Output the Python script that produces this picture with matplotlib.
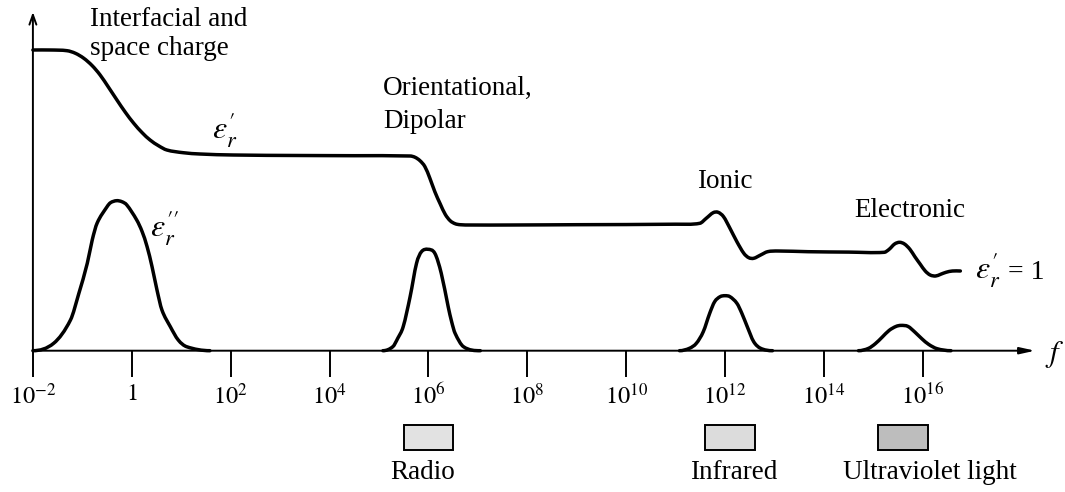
import numpy as np
import matplotlib.pyplot as plt
from matplotlib.patches import Rectangle, PathPatch
from matplotlib.path import Path

plt.rcParams['font.family'] = ['Liberation Serif', 'DejaVu Serif']
plt.rcParams['mathtext.fontset'] = 'stix'

real_exp = [-2.0, -1.64, -1.31, -1.14, -0.97, -0.80, -0.64, -0.47, -0.30, -0.13, 0.04, 0.21,
            0.37, 0.54, 0.71, 1.04, 1.38, 2.05, 3.40,
            4.50, 5.63, 5.73, 5.83, 5.93, 6.03, 6.13, 6.24, 6.34, 6.44, 6.54, 6.64, 6.85, 7.66,
            9.00, 11.00, 11.49, 11.62, 11.76, 11.86, 11.97, 12.10, 12.24, 12.38, 12.48, 12.58,
            12.72, 12.86, 13.07, 13.68,
            14.50, 15.22, 15.32, 15.43, 15.53, 15.63, 15.74, 15.84, 15.95, 16.05, 16.15, 16.26,
            16.36, 16.47, 16.60, 16.76]
real_val = [300.7, 300.7, 300.0, 297.4, 292.4, 285.0, 275.7, 263.4, 250.7, 238.4, 227.4, 218.0,
            210.7, 205.0, 200.7, 198.0, 196.7, 195.7, 195.2,
            195.0, 194.7, 193.4, 190.0, 184.0, 172.4, 159.0, 146.7, 136.4, 130.0, 127.0, 126.0, 125.7, 125.7,
            126.0, 126.5, 127.4, 132.4, 138.0, 138.4, 134.0, 122.4, 109.0, 97.4, 93.0, 92.4,
            95.7, 99.0, 99.7, 99.0,
            98.6, 98.4, 101.4, 106.7, 108.4, 106.7, 101.4, 94.0, 86.4, 79.7, 75.7, 74.7,
            76.4, 78.4, 79.7, 79.7]

# imaginary part eps''_r, one peak per mechanism
space_exp = [-2.0, -1.58, -1.24, -1.07, -0.90, -0.80, -0.70, -0.50, -0.43, -0.31, -0.20, -0.10,
             0.10, 0.21, 0.31, 0.41, 0.51, 0.61, 0.78, 0.94, 1.11, 1.58]
space_val = [0, 7.4, 30.7, 57.4, 87.4, 110.7, 127.7, 144, 148, 150, 149, 145.7,
             130.7, 119, 104, 84, 60.7, 40.7, 24, 10.7, 4, 0]
dipolar_exp = [5.08, 5.28, 5.38, 5.49, 5.63, 5.76, 5.86, 5.99, 6.13, 6.26, 6.40, 6.47, 6.54, 6.71, 7.05]
dipolar_val = [0, 4, 12.4, 24, 54, 87.4, 99, 101.4, 97.4, 77.4, 44, 29, 17.4, 4, 0]
ionic_exp = [11.08, 11.28, 11.42, 11.56, 11.69, 11.79, 11.90, 12.0, 12.10, 12.24, 12.34, 12.45,
             12.58, 12.72, 12.96]
ionic_val = [0, 2.4, 7.4, 19, 37.4, 49, 54, 55, 54, 47.4, 37.4, 24, 9, 2.4, 0]
elec_exp = [14.70, 14.90, 15.04, 15.18, 15.32, 15.46, 15.56, 15.70, 15.84, 15.98, 16.12, 16.29, 16.57]
elec_val = [0, 2.3, 7, 13.6, 20.3, 24.3, 25.3, 24.3, 18.6, 12, 6.3, 2, 0]

tick_exp = [-2, 0, 2, 4, 6, 8, 10, 12, 14, 16]
tick_labels = [r'$10^{-2}$', '$1$', r'$10^{2}$', r'$10^{4}$', r'$10^{6}$', r'$10^{8}$',
               r'$10^{10}$', r'$10^{12}$', r'$10^{14}$', r'$10^{16}$']

bands = ['Radio', 'Infrared', 'Ultraviolet light']
band_exp = [6.0, 12.1, 15.6]
band_colors = ['#e2e2e2', '#dcdcdc', '#bdbdbd']


def smooth_path(exps, vals):
    # smooth curve through the read points: cubic Hermite in log-f, drawn as Bezier segments
    x = np.asarray(exps, float)
    y = np.asarray(vals, float)
    m = np.zeros_like(y)
    m[1:-1] = (y[2:] - y[:-2]) / (x[2:] - x[:-2])
    verts = [(x[0], y[0])]
    codes = [Path.MOVETO]
    for i in range(len(x) - 1):
        dx = x[i + 1] - x[i]
        verts += [(x[i] + dx / 3, y[i] + m[i] * dx / 3),
                  (x[i + 1] - dx / 3, y[i + 1] - m[i + 1] * dx / 3),
                  (x[i + 1], y[i + 1])]
        codes += [Path.CURVE4] * 3
    v = np.array(verts)
    v[:, 0] = 10.0 ** v[:, 0]
    return Path(v, codes)


W, H = 1065, 492
fig = plt.figure(figsize=(W / 100, H / 100), dpi=100)
ax = fig.add_axes([32.9 / W, (H - 350.7) / H, (1035 - 32.9) / W, (350.7 - 12) / H])
ax.set_xscale('log')
ax.set_xlim(1e-2, 10 ** 18.27)
ax.set_ylim(0, 338.7)
for s in ax.spines.values():
    s.set_visible(False)

lw = 2.5
for ex, v in [(real_exp, real_val), (space_exp, space_val), (dipolar_exp, dipolar_val),
              (ionic_exp, ionic_val), (elec_exp, elec_val)]:
    ax.add_patch(PathPatch(smooth_path(ex, v), facecolor='none', edgecolor='black', lw=lw,
                           capstyle='round', joinstyle='round', clip_on=False, zorder=3))

# axes with arrows
ax.annotate('', xy=(1, 0), xytext=(0, 0), xycoords='axes fraction', annotation_clip=False,
            arrowprops=dict(arrowstyle='-|>,head_length=0.9,head_width=0.2', color='black', lw=1.4,
                            shrinkA=0, shrinkB=0))
ax.annotate('', xy=(0, 1), xytext=(0, 0), xycoords='axes fraction', annotation_clip=False,
            arrowprops=dict(arrowstyle='->,head_length=0.7,head_width=0.25', color='black', lw=1.4,
                            shrinkA=0, shrinkB=0))

ax.set_xticks(10.0 ** np.array(tick_exp))
ax.set_xticklabels(tick_labels)
ax.minorticks_off()
ax.set_yticks([])
ax.tick_params(axis='x', direction='out', length=19, width=1.4, pad=5, labelsize=17.5)

# spectral bands under the axis
for name, c, col in zip(bands, band_exp, band_colors):
    x0, x1 = 10 ** (c - 0.5), 10 ** (c + 0.5)
    ax.add_patch(Rectangle((x0, -99), x1 - x0, 24.5, facecolor=col, edgecolor='black',
                           lw=1.4, clip_on=False))
shift = [-0.12, 0.07, 0.55]
for name, c, sh in zip(bands, band_exp, shift):
    ax.text(10 ** (c + sh), -128, name, ha='center', va='baseline', fontsize=19.5, clip_on=False)


def ptext(px, py, s, **kw):
    fig.text(px / W, 1 - py / H, s, **kw)


ptext(90, 26, 'Interfacial and', fontsize=19.5, va='baseline')
ptext(90, 55, 'space charge', fontsize=19.5, va='baseline')
ptext(383, 95, 'Orientational,', fontsize=19.5, va='baseline')
ptext(383, 128, 'Dipolar', fontsize=19.5, va='baseline')
ptext(697, 188, 'Ionic', fontsize=19.5, va='baseline')
ptext(854, 217, 'Electronic', fontsize=19.5, va='baseline')
ptext(212, 139, r"$\varepsilon_r'$", fontsize=23, va='baseline')
ptext(150, 237, r"$\varepsilon_r''$", fontsize=23, va='baseline')
ptext(975, 279, r"$\varepsilon_r'$", fontsize=23, va='baseline')
ptext(1008, 279, '= 1', fontsize=20, va='baseline')
ptext(1045, 362, r'$f$', fontsize=22, va='baseline')

fig.savefig('out.png', dpi=100)
